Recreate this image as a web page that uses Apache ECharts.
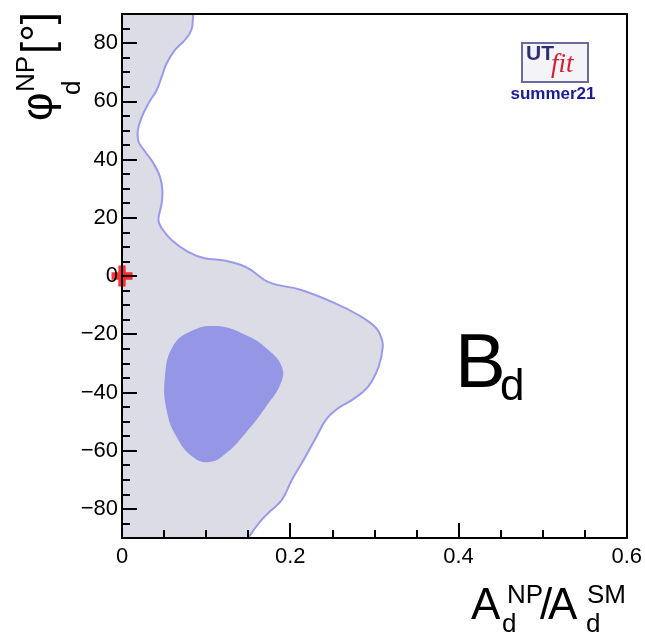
<!DOCTYPE html>
<html>
<head>
<meta charset="utf-8">
<title>UTfit B_d new physics</title>
<script src="https://cdn.jsdelivr.net/npm/echarts@6/dist/echarts.min.js"></script>
<style>
  html, body { margin: 0; padding: 0; background: #fff; }
  #chart { width: 645px; height: 634px; }
</style>
</head>
<body>
<div id="chart"></div>
<script>
// contours: [A_d^NP/A_d^SM, phi_d^NP (deg)]
const outerContour = [
  [0.085, 91], [0.0845, 89.0], [0.0825, 84.5], [0.0746, 81.0], [0.0628, 77.6],
  [0.0530, 73.0], [0.0472, 68.4], [0.0413, 63.9], [0.0315, 59.3], [0.0236, 54.7],
  [0.0189, 50.1], [0.0197, 46.1], [0.0275, 42.7], [0.0374, 38.7], [0.0451, 34.1],
  [0.0480, 29.5], [0.0472, 25.0], [0.0433, 19.2], [0.0472, 16.4], [0.0589, 12.4],
  [0.0786, 8.3], [0.0982, 6.1], [0.1218, 5.3], [0.1415, 3.8], [0.1532, 2.1],
  [0.174, -2.1], [0.213, -4.8], [0.253, -9.3], [0.281, -13.4], [0.301, -17.5],
  [0.308, -20.9], [0.310, -24.4], [0.305, -31.2], [0.293, -37.8], [0.275, -42.3],
  [0.258, -45.2], [0.243, -49.2], [0.231, -55.3], [0.218, -62.1], [0.202, -70.0],
  [0.190, -76.9], [0.174, -81.4], [0.163, -84.8], [0.151, -89.6], [0.149, -91]
];
// closes the outer region along the left edge of the frame
const outerCorners = [[0, -91], [0, 91]];

const innerContour = [
  [0.112, -17.2], [0.147, -20.3], [0.174, -25.4], [0.190, -31.2], [0.189, -36.7],
  [0.171, -45.0], [0.147, -53.9], [0.124, -60.8], [0.104, -63.9], [0.084, -62.1],
  [0.065, -55.3], [0.053, -46.0], [0.051, -34.7], [0.060, -24.4], [0.080, -19.2]
];

const smPoint = [[0, 0]];

const yMajorTicks = [-80, -60, -40, -20, 0, 20, 40, 60, 80];
const yMinorTicks = [-85, -75, -70, -65, -55, -50, -45, -35, -30, -25, -15, -10, -5,
  5, 10, 15, 25, 30, 35, 45, 50, 55, 65, 70, 75, 85];

const FONT = "'Liberation Sans', Arial, sans-serif";
const outerFill = '#dcdce6';
const lineColor = '#9a9aea';
const innerFill = '#9696e6';

const chart = echarts.init(document.getElementById('chart'));

function txt(text, x, y, size, extra) {
  return Object.assign({
    type: 'text',
    x: x,
    y: y,
    z: 50,
    style: Object.assign({
      text: text,
      fontSize: size,
      fontFamily: FONT,
      fill: '#000',
      align: 'left',
      verticalAlign: 'middle'
    }, (extra && extra.style) || {})
  }, (extra && extra.el) || {});
}
const rot = { el: { rotation: Math.PI / 2 } };

const axisBlack = { color: '#000', width: 2 };

const option = {
  backgroundColor: '#fff',
  animation: false,
  grid: { left: 122, right: 14, top: 14, bottom: 96, containLabel: false },
  xAxis: [
    {
      type: 'value', min: 0, max: 0.6, interval: 0.2, z: 10,
      axisLine: { show: true, onZero: false, lineStyle: axisBlack },
      axisTick: { show: true, inside: true, length: 15, lineStyle: axisBlack },
      minorTick: { show: true, splitNumber: 4, length: 8, lineStyle: axisBlack },
      splitLine: { show: false },
      axisLabel: {
        fontSize: 22, fontFamily: FONT, color: '#000', margin: 8,
        formatter: v => (v === 0 ? '0' : v.toFixed(1))
      }
    },
    {
      type: 'value', position: 'top', min: 0, max: 0.6, z: 10,
      axisLine: { show: true, onZero: false, lineStyle: axisBlack },
      axisTick: { show: false }, axisLabel: { show: false }, splitLine: { show: false }
    }
  ],
  yAxis: [
    {
      type: 'value', min: -90, max: 90, z: 10,
      axisLine: { show: true, onZero: false, lineStyle: axisBlack },
      axisTick: { show: true, inside: true, length: 15, lineStyle: axisBlack, customValues: yMajorTicks },
      splitLine: { show: false },
      axisLabel: {
        fontSize: 22, fontFamily: FONT, color: '#000', margin: 4,
        customValues: yMajorTicks,
        formatter: v => (v < 0 ? '\u2212' + Math.abs(v) : String(v))
      }
    },
    {
      type: 'value', position: 'left', min: -90, max: 90, z: 10,
      axisLine: { show: false },
      axisTick: { show: true, inside: true, length: 8, lineStyle: axisBlack, customValues: yMinorTicks },
      axisLabel: { show: false }, splitLine: { show: false }
    },
    {
      type: 'value', position: 'right', min: -90, max: 90, z: 10,
      axisLine: { show: true, onZero: false, lineStyle: axisBlack },
      axisTick: { show: false }, axisLabel: { show: false }, splitLine: { show: false }
    }
  ],
  series: [
    {
      name: 'outer fill', type: 'custom', clip: true, z: 2, silent: true,
      data: [0],
      renderItem: (params, api) => ({
        type: 'polygon',
        shape: { points: outerContour.concat(outerCorners).map(p => api.coord(p)) },
        style: { fill: outerFill, stroke: null }
      })
    },
    {
      name: 'outer line', type: 'custom', clip: true, z: 3, silent: true,
      data: [0],
      renderItem: (params, api) => ({
        type: 'polyline',
        shape: { points: outerContour.map(p => api.coord(p)), smooth: 0.4 },
        style: { fill: null, stroke: lineColor, lineWidth: 2 }
      })
    },
    {
      name: 'inner', type: 'custom', clip: true, z: 4, silent: true,
      data: [0],
      renderItem: (params, api) => ({
        type: 'polygon',
        shape: { points: innerContour.map(p => api.coord(p)), smooth: 0.45 },
        style: { fill: innerFill, stroke: null }
      })
    },
    {
      name: 'SM', type: 'scatter', z: 5, silent: true,
      data: smPoint,
      symbol: 'path://M6.5,0H13.5V6.5H20V13.5H13.5V20H6.5V13.5H0V6.5H6.5Z',
      symbolSize: 21,
      itemStyle: { color: '#ff0000' }
    }
  ],
  graphic: [
    // y title: phi_d^NP [deg]
    txt('\u03c6', 40, 121, 44, rot),
    txt('NP', 27, 92, 26, rot),
    txt('d', 73, 95, 26, rot),
    txt('[\u00b0]', 40, 54, 44, rot),
    // x title: A_d^NP / A_d^SM
    txt('A', 471, 607, 44),
    txt('NP', 507, 596, 26),
    txt('d', 502, 625, 26),
    txt('/', 540, 607, 44),
    txt('A', 548, 607, 44),
    txt('SM', 587, 596, 26),
    txt('d', 586, 625, 26),
    // B_d label
    txt('B', 455, 366, 76),
    txt('d', 500, 388, 44),
    // UTfit logo
    {
      type: 'rect', z: 40,
      shape: { x: 522, y: 43, width: 66, height: 39 },
      style: { fill: '#f3f3f8', stroke: '#6b6b9b', lineWidth: 2 }
    },
    txt('UT', 526, 54, 21, { style: { fill: '#2e3170', fontWeight: 'bold' } }),
    txt('fit', 551, 65, 27, { style: { fill: '#d4202e', fontStyle: 'italic', fontFamily: "'Liberation Serif', 'DejaVu Serif', serif" } }),
    txt('summer21', 553, 94, 17, { style: { fill: '#1a1a9a', fontWeight: 'bold', align: 'center' } })
  ]
};

chart.setOption(option);
</script>
</body>
</html>
